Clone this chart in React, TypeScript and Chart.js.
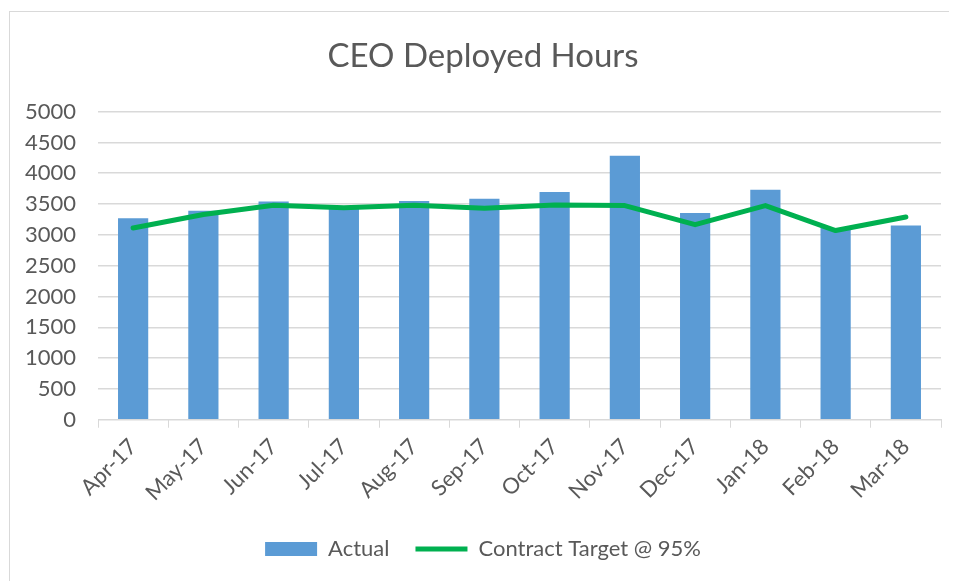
import React, { useEffect, useRef } from "react";
import { Chart, registerables } from "chart.js";

Chart.register(...registerables);

const months = ["Apr-17", "May-17", "Jun-17", "Jul-17", "Aug-17", "Sep-17", "Oct-17", "Nov-17", "Dec-17", "Jan-18", "Feb-18", "Mar-18"];
const actual = [3270, 3390, 3540, 3460, 3550, 3585, 3695, 4285, 3355, 3730, 3110, 3150];
const target = [3110, 3330, 3480, 3440, 3480, 3430, 3485, 3475, 3165, 3475, 3070, 3290];
const yTicks = [0, 500, 1000, 1500, 2000, 2500, 3000, 3500, 4000, 4500, 5000];

const FONT = "Lato, 'Open Sans', sans-serif";
const TXT = "#595959";

export default function App() {
  const ref = useRef<HTMLCanvasElement | null>(null);
  useEffect(() => {
    if (!ref.current) return;
    const chart = new Chart(ref.current, {
      type: "bar",
      data: {
        labels: months,
        datasets: [
          {
            type: "line",
            label: "Contract Target @ 95%",
            data: target,
            borderColor: "#00B050",
            backgroundColor: "#00B050",
            borderWidth: 5,
            pointRadius: 0,
            tension: 0,
            borderCapStyle: "round",
            borderJoinStyle: "round",
            order: 0,
          },
          {
            type: "bar",
            label: "Actual",
            data: actual,
            backgroundColor: "#5B9BD5",
            borderWidth: 0,
            barPercentage: 0.86,
            categoryPercentage: 0.5,
            order: 1,
          },
        ],
      },
      options: {
        animation: false,
        responsive: true,
        maintainAspectRatio: false,
        layout: { padding: { left: 15, right: 12, top: 0, bottom: 20 } },
        plugins: {
          title: {
            display: true,
            text: "CEO Deployed Hours",
            color: TXT,
            font: { family: FONT, size: 33, weight: "normal" },
            padding: { top: 25, bottom: 35 },
          },
          legend: {
            position: "bottom",
            labels: {
              color: TXT,
              font: { family: FONT, size: 22 },
              usePointStyle: true,
              pointStyleWidth: 52,
              boxHeight: 14,
              padding: 26,
              generateLabels: (c: any) => {
                const ds = c.data.datasets;
                return [1, 0].map((i) => ({
                  text: ds[i].label,
                  fillStyle: i === 1 ? "#5B9BD5" : "#00B050",
                  strokeStyle: i === 1 ? "#5B9BD5" : "#00B050",
                  lineWidth: i === 1 ? 0 : 5,
                  pointStyle: i === 1 ? "rect" : "line",
                  fontColor: TXT,
                  datasetIndex: i,
                  hidden: false,
                }));
              },
            },
          },
          tooltip: { enabled: false },
        },
        scales: {
          x: {
            afterFit: (s: any) => {
              s.paddingLeft = 0;
            },
            grid: { display: true, offset: true, drawOnChartArea: false, color: "#d9d9d9", tickLength: 8 },
            border: { color: "#d9d9d9", width: 1 },
            ticks: {
              color: TXT,
              font: { family: FONT, size: 22 },
              maxRotation: 45,
              minRotation: 45,
              padding: 6,
            },
          },
          y: {
            min: 0,
            max: 5000,
            afterFit: (s: any) => {
              s.width = 73;
            },
            afterBuildTicks: (axis: any) => {
              axis.ticks = yTicks.map((v) => ({ value: v }));
            },
            grid: { color: "#d9d9d9", lineWidth: 1.5, drawTicks: false },
            border: { display: false },
            ticks: {
              color: TXT,
              font: { family: FONT, size: 22 },
              padding: 22,
              callback: (v: any) => String(v),
            },
          },
        },
      },
    });
    return () => chart.destroy();
  }, []);
  return (
    <div
      style={{
        position: "relative",
        width: 945,
        height: 580,
        margin: "3px 0 0 1px",
        border: "1px solid #d9d9d9",
        boxSizing: "border-box",
        background: "#fff",
      }}
    >
      <canvas ref={ref} />
    </div>
  );
}
